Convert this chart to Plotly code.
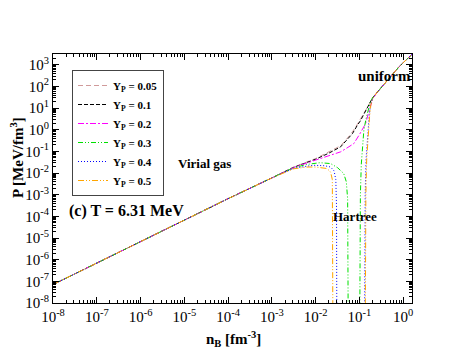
import plotly.graph_objects as go

# densities n_B [fm^-3] and pressures P [MeV/fm^3]
n_low = [1e-8, 1e-7, 1e-6, 1e-5, 1e-4, 1e-3]
P_low = [7.1e-8, 7.1e-7, 7.1e-6, 6.9e-5, 6.6e-4, 6.0e-3]

n_unif = [0.251, 0.316, 0.398, 0.501, 0.631, 0.794, 1.0, 1.26, 1.58]
P_unif = [52.5, 91.2, 158, 275, 457, 794, 1259, 1995, 3020]

n_005 = [0.00316, 0.01, 0.02, 0.037, 0.05, 0.069, 0.089, 0.107, 0.126, 0.158, 0.178, 0.2]
P_005 = [0.0191, 0.0468, 0.0933, 0.182, 0.355, 0.794, 1.78, 3.16, 5.75, 12.6, 20.0, 30.9]

n_01 = [0.00316, 0.01, 0.02, 0.037, 0.05, 0.069, 0.089, 0.107, 0.126, 0.158, 0.178, 0.2]
P_01 = [0.0186, 0.0437, 0.0832, 0.162, 0.316, 0.661, 1.58, 2.75, 5.25, 12.0, 19.1, 30.2]

n_02 = [0.00316, 0.01, 0.0129, 0.02, 0.037, 0.05, 0.0741, 0.1, 0.117, 0.138, 0.158, 0.178, 0.2]
P_02 = [0.0182, 0.0398, 0.0468, 0.0631, 0.0955, 0.138, 0.229, 0.603, 1.12, 1.91, 5.25, 12.6, 26.3]

n_03 = [0.00316, 0.0063, 0.0126, 0.0219, 0.0316, 0.0437, 0.0501, 0.0537, 0.055, 0.0556, None,
        0.101, 0.102, 0.105, 0.110, 0.117, 0.126, 0.141, 0.158, 0.178, 0.2]
P_03 = [0.0178, 0.0251, 0.0302, 0.0275, 0.0178, 0.00955, 0.00398, 6.3e-4, 1e-5, 1e-10, None,
        1e-10, 1e-5, 1e-3, 0.0251, 0.251, 0.955, 3.16, 8.9, 20.0, 30.0]

n_04 = [0.00316, 0.0063, 0.0091, 0.0158, 0.0219, 0.0263, 0.0288, 0.0299, 0.0302, 0.0305, None,
        0.130, 0.132, 0.135, 0.141, 0.151, 0.166, 0.178, 0.2]
P_04 = [0.0166, 0.0209, 0.0229, 0.0219, 0.0191, 0.0126, 0.0050, 3.2e-4, 1e-6, 1e-10, None,
        1e-10, 1e-5, 1e-3, 0.0398, 0.5, 3.98, 12.6, 28.2]

n_05 = [0.00316, 0.0063, 0.01, 0.0182, 0.0219, 0.024, 0.0243, 0.0245, 0.0248, None,
        0.135, 0.136, 0.140, 0.146, 0.158, 0.170, 0.182, 0.2]
P_05 = [0.0158, 0.0191, 0.0191, 0.0162, 0.0112, 0.0050, 3.2e-4, 1e-6, 1e-10, None,
        1e-10, 1e-5, 1e-3, 0.0398, 0.631, 3.98, 14.1, 28.2]

series = [
    ("0.05", n_005, P_005, "#d09a9a", "5px,3px"),
    ("0.1", n_01, P_01, "black", "4px,2px"),
    ("0.2", n_02, P_02, "#ff00ff", "6px,2px,2px,2px"),
    ("0.3", n_03, P_03, "#00e000", "5px,2px,1px,2px,1px,2px"),
    ("0.4", n_04, P_04, "#0000ff", "1px,2px"),
    ("0.5", n_05, P_05, "#ffa500", "6px,2px,1px,2px,1px,2px"),
]

serif = "Liberation Serif"

fig = go.Figure()
for yp, n, P, color, dash in series:
    fig.add_trace(go.Scatter(
        x=n_low + n + n_unif,
        y=P_low + P + P_unif,
        mode="lines",
        name="<b>Y<sub>P</sub> = " + yp + "</b>",
        line=dict(color=color, width=1, dash=dash),
        connectgaps=False,
    ))

xtick_vals = [1e-8, 1e-7, 1e-6, 1e-5, 1e-4, 1e-3, 1e-2, 1e-1, 1]
xtick_text = ["10<sup>%d</sup>" % e for e in range(-8, 1)]
ytick_vals = [10.0 ** e for e in range(-8, 4)]
ytick_text = ["10<sup>%d</sup>" % e for e in range(-8, 4)]

axis_common = dict(
    type="log",
    showline=True, linecolor="black", linewidth=1, mirror="allticks",
    ticks="inside", ticklen=6, tickcolor="black",
    showgrid=False, zeroline=False,
    tickfont=dict(family=serif, size=15, color="black"),
    minor=dict(ticks="inside", ticklen=3, tickcolor="black", dtick="D1", showgrid=False),
)

# the page body adds an 8px offset, so the figure is 8px smaller and margins shifted
fig.update_layout(
    width=455, height=350,
    margin=dict(l=45, r=51, t=46, b=55, autoexpand=False),
    plot_bgcolor="white", paper_bgcolor="white",
    font=dict(family=serif, color="black"),
    xaxis=dict(range=[-8, 0.2], tickvals=xtick_vals, ticktext=xtick_text, **axis_common),
    yaxis=dict(range=[-8, 3.5], tickvals=ytick_vals, ticktext=ytick_text, **axis_common),
    showlegend=True,
    legend=dict(
        x=(72 - 53) / 359, y=1 - (70 - 54) / 249, xanchor="left", yanchor="top",
        bgcolor="white", bordercolor="#444444", borderwidth=1,
        font=dict(family=serif, size=11, color="black"),
        tracegroupgap=0, itemwidth=30,
    ),
)

annotations = [
    dict(text="<b>uniform</b>", x=384, y=76, size=15),
    dict(text="<b>Virial gas</b>", x=204, y=163, size=13),
    dict(text="<b>(c) T = 6.31 MeV</b>", x=126, y=211, size=16),
    dict(text="<b>Hartree</b>", x=355, y=216, size=13),
    dict(text="<b>n<sub>B</sub> [fm<sup>-3</sup>]</b>", x=233, y=339, size=15),
]
for a in annotations:
    fig.add_annotation(
        text=a["text"], xref="paper", yref="paper",
        x=(a["x"] - 53) / 359, y=1 - (a["y"] - 54) / 249,
        showarrow=False, font=dict(family=serif, size=a["size"], color="black"),
        xanchor="center", yanchor="middle",
    )
fig.add_annotation(
    text="<b>P [MeV/fm<sup>3</sup>]</b>", xref="paper", yref="paper",
    x=(17 - 53) / 359, y=1 - (158 - 54) / 249, textangle=-90,
    showarrow=False, font=dict(family=serif, size=15, color="black"),
    xanchor="center", yanchor="middle",
)

fig.write_html("out.html")
